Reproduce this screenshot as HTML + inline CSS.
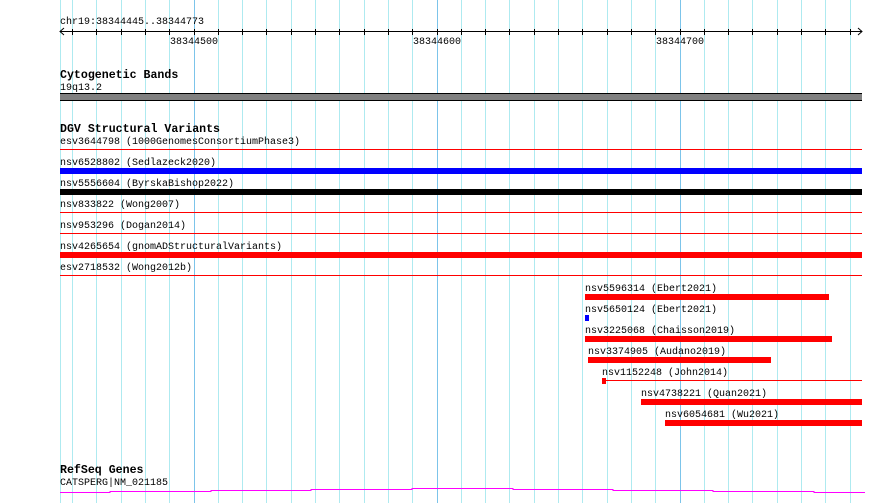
<!DOCTYPE html>
<html><head><style>
html,body{margin:0;padding:0;background:#fff;}
svg{display:block}
text{font-family:"Liberation Mono","DejaVu Sans Mono",monospace;font-size:10px;fill:#000}
.t{font-weight:bold;font-size:11.6px}
</style></head><body>
<svg width="890" height="503" xmlns="http://www.w3.org/2000/svg">
<g id="grid" stroke="#b0e8ee" stroke-width="1">
<script>/* none */</script>
</g>
<g stroke="#aeeaf0" stroke-width="1">
<line x1="60.5" y1="0" x2="60.5" y2="503"/>
<line x1="72.5" y1="0" x2="72.5" y2="503"/><line x1="96.5" y1="0" x2="96.5" y2="503"/><line x1="121.5" y1="0" x2="121.5" y2="503"/><line x1="145.5" y1="0" x2="145.5" y2="503"/><line x1="169.5" y1="0" x2="169.5" y2="503"/>
<line x1="218.5" y1="0" x2="218.5" y2="503"/><line x1="242.5" y1="0" x2="242.5" y2="503"/><line x1="266.5" y1="0" x2="266.5" y2="503"/><line x1="291.5" y1="0" x2="291.5" y2="503"/><line x1="315.5" y1="0" x2="315.5" y2="503"/><line x1="339.5" y1="0" x2="339.5" y2="503"/><line x1="364.5" y1="0" x2="364.5" y2="503"/><line x1="388.5" y1="0" x2="388.5" y2="503"/><line x1="412.5" y1="0" x2="412.5" y2="503"/>
<line x1="461.5" y1="0" x2="461.5" y2="503"/><line x1="485.5" y1="0" x2="485.5" y2="503"/><line x1="509.5" y1="0" x2="509.5" y2="503"/><line x1="534.5" y1="0" x2="534.5" y2="503"/><line x1="558.5" y1="0" x2="558.5" y2="503"/><line x1="582.5" y1="0" x2="582.5" y2="503"/><line x1="607.5" y1="0" x2="607.5" y2="503"/><line x1="631.5" y1="0" x2="631.5" y2="503"/><line x1="655.5" y1="0" x2="655.5" y2="503"/>
<line x1="704.5" y1="0" x2="704.5" y2="503"/><line x1="728.5" y1="0" x2="728.5" y2="503"/><line x1="752.5" y1="0" x2="752.5" y2="503"/><line x1="777.5" y1="0" x2="777.5" y2="503"/><line x1="801.5" y1="0" x2="801.5" y2="503"/><line x1="825.5" y1="0" x2="825.5" y2="503"/><line x1="850.5" y1="0" x2="850.5" y2="503"/>
</g>
<g stroke="#7cc4ea" stroke-width="1">
<line x1="194.5" y1="0" x2="194.5" y2="503"/><line x1="437.5" y1="0" x2="437.5" y2="503"/><line x1="680.5" y1="0" x2="680.5" y2="503"/>
</g>
<!-- ruler -->
<text x="60" y="24">chr19:38344445..38344773</text>
<line x1="60" y1="31.5" x2="862" y2="31.5" stroke="#000"/>
<path d="M64 28 L60 31.5 L64 35 M858 28 L862 31.5 L858 35" stroke="#000" fill="none"/>
<g stroke="#000">
<line x1="72.5" y1="29" x2="72.5" y2="35"/><line x1="96.5" y1="29" x2="96.5" y2="35"/><line x1="121.5" y1="29" x2="121.5" y2="35"/><line x1="145.5" y1="29" x2="145.5" y2="35"/><line x1="169.5" y1="29" x2="169.5" y2="35"/><line x1="194.5" y1="29" x2="194.5" y2="35"/><line x1="218.5" y1="29" x2="218.5" y2="35"/><line x1="242.5" y1="29" x2="242.5" y2="35"/><line x1="266.5" y1="29" x2="266.5" y2="35"/><line x1="291.5" y1="29" x2="291.5" y2="35"/><line x1="315.5" y1="29" x2="315.5" y2="35"/><line x1="339.5" y1="29" x2="339.5" y2="35"/><line x1="364.5" y1="29" x2="364.5" y2="35"/><line x1="388.5" y1="29" x2="388.5" y2="35"/><line x1="412.5" y1="29" x2="412.5" y2="35"/><line x1="437.5" y1="29" x2="437.5" y2="35"/><line x1="461.5" y1="29" x2="461.5" y2="35"/><line x1="485.5" y1="29" x2="485.5" y2="35"/><line x1="509.5" y1="29" x2="509.5" y2="35"/><line x1="534.5" y1="29" x2="534.5" y2="35"/><line x1="558.5" y1="29" x2="558.5" y2="35"/><line x1="582.5" y1="29" x2="582.5" y2="35"/><line x1="607.5" y1="29" x2="607.5" y2="35"/><line x1="631.5" y1="29" x2="631.5" y2="35"/><line x1="655.5" y1="29" x2="655.5" y2="35"/><line x1="680.5" y1="29" x2="680.5" y2="35"/><line x1="704.5" y1="29" x2="704.5" y2="35"/><line x1="728.5" y1="29" x2="728.5" y2="35"/><line x1="752.5" y1="29" x2="752.5" y2="35"/><line x1="777.5" y1="29" x2="777.5" y2="35"/><line x1="801.5" y1="29" x2="801.5" y2="35"/><line x1="825.5" y1="29" x2="825.5" y2="35"/><line x1="850.5" y1="29" x2="850.5" y2="35"/>
</g>
<text x="170" y="44">38344500</text>
<text x="413" y="44">38344600</text>
<text x="656" y="44">38344700</text>
<!-- cyto -->
<text class="t" x="60" y="78">Cytogenetic Bands</text>
<text x="60" y="90">19q13.2</text>
<rect x="60" y="93" width="802" height="8" fill="#808080"/>
<line x1="60" y1="93.5" x2="862" y2="93.5" stroke="#000"/>
<line x1="60" y1="100.5" x2="862" y2="100.5" stroke="#000"/>
<!-- DGV -->
<text class="t" x="60" y="132">DGV Structural Variants</text>
<text x="60" y="144">esv3644798 (1000GenomesConsortiumPhase3)</text>
<line x1="60" y1="149.5" x2="862" y2="149.5" stroke="#f00"/>
<text x="60" y="165">nsv6528802 (Sedlazeck2020)</text>
<rect x="60" y="168" width="802" height="6" fill="#00f"/>
<text x="60" y="186">nsv5556604 (ByrskaBishop2022)</text>
<rect x="60" y="189" width="802" height="6" fill="#000"/>
<text x="60" y="207">nsv833822 (Wong2007)</text>
<line x1="60" y1="212.5" x2="862" y2="212.5" stroke="#f00"/>
<text x="60" y="228">nsv953296 (Dogan2014)</text>
<line x1="60" y1="233.5" x2="862" y2="233.5" stroke="#f00"/>
<text x="60" y="249">nsv4265654 (gnomADStructuralVariants)</text>
<rect x="60" y="252" width="802" height="6" fill="#f00"/>
<text x="60" y="270">esv2718532 (Wong2012b)</text>
<line x1="60" y1="275.5" x2="862" y2="275.5" stroke="#f00"/>
<text x="585" y="291">nsv5596314 (Ebert2021)</text>
<rect x="585" y="294" width="244" height="6" fill="#f00"/>
<text x="585" y="312">nsv5650124 (Ebert2021)</text>
<rect x="585" y="315" width="4" height="6" fill="#00f"/>
<text x="585" y="333">nsv3225068 (Chaisson2019)</text>
<rect x="585" y="336" width="247" height="6" fill="#f00"/>
<text x="588" y="354">nsv3374905 (Audano2019)</text>
<rect x="588" y="357" width="183" height="6" fill="#f00"/>
<text x="602" y="375">nsv1152248 (John2014)</text>
<rect x="602" y="378" width="4" height="6" fill="#f00"/>
<line x1="606" y1="380.5" x2="862" y2="380.5" stroke="#f00"/>
<text x="641" y="396">nsv4738221 (Quan2021)</text>
<rect x="641" y="399" width="221" height="6" fill="#f00"/>
<text x="665" y="417">nsv6054681 (Wu2021)</text>
<rect x="665" y="420" width="197" height="6" fill="#f00"/>
<!-- RefSeq -->
<text class="t" x="60" y="473">RefSeq Genes</text>
<text x="60" y="485">CATSPERG|NM_021185</text>
<path d="M60 492.5 H110 V491.5 H211 V490.5 H311 V489.5 H412 V488.5 H513 V489.5 H613 V490.5 H713 V491.5 H814 V492.5 H865" stroke="#f0f" fill="none"/>
</svg>
</body></html>
